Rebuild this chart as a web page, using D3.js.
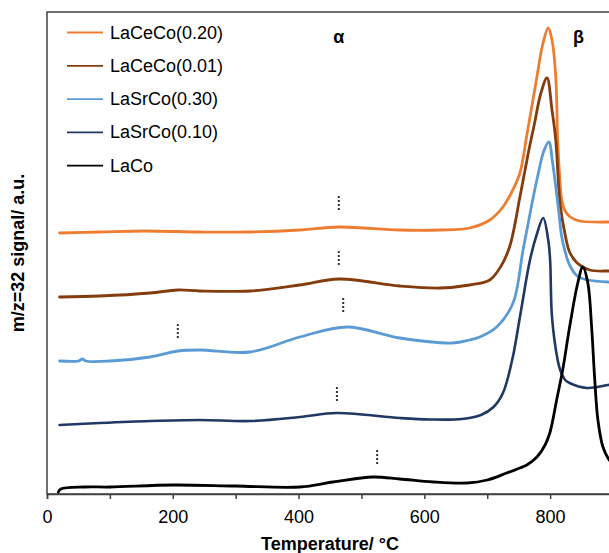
<!DOCTYPE html>
<html><head><meta charset="utf-8">
<script src="https://cdn.jsdelivr.net/npm/d3@7"></script>
<style>body{margin:0;background:#fff}svg{display:block}text{font-family:"Liberation Sans",Arial,sans-serif}</style>
</head><body><div id="chart"></div>
<script>
// ---- data (signal in a.u., temperature in °C) ----
const seriesNames = ["LaCeCo(0.20)", "LaCeCo(0.01)", "LaSrCo(0.30)", "LaSrCo(0.10)", "LaCo"];
const seriesColors = ["#ED7D31", "#843C0C", "#5B9BD5", "#1F3864", "#000000"];

const tLaCeCo020 = [20,84,156,243,323,402,464,561,625,672,704,725,739,752,763,770,779,788,797,803,809,812,815,818,823,832,847,893,900];
const vLaCeCo020 = [26.1,26.2,26.3,26.2,26.2,26.4,26.7,26.4,26.4,26.6,27.4,28.7,30.2,32.1,35.9,38.4,41.7,44.9,46.6,45.4,41.7,35.4,31.9,29.6,28.4,27.7,27.3,27.2,27.2];

const tLaCeCo001 = [20,84,164,208,243,323,402,464,561,625,672,704,722,736,752,765,775,785,795,803,809,816,824,831,843,863,892,900];
const vLaCeCo001 = [19.7,19.8,20.1,20.4,20.3,20.3,20.9,21.5,20.8,20.6,20.9,21.4,22.8,24.8,29.7,34.0,37.0,40.0,41.6,38.4,35.4,28.9,25.9,24.2,23.1,22.4,22.3,22.3];

const tLaSrCo030 = [20,50,56,62,100,164,208,243,323,402,477,561,645,672,688,715,741,757,771,781,790,798,804,814,818,824,831,843,860,892,900];
const vLaSrCo030 = [13.3,13.3,13.5,13.3,13.3,13.7,14.3,14.4,14.2,15.7,16.7,15.6,15.1,15.4,15.7,16.7,19.1,24.4,29.0,32.0,34.3,35.2,33.1,28.1,25.9,24.2,22.9,21.8,21.4,21.2,21.2];

const tLaSrCo010 = [20,84,164,243,323,402,461,561,610,660,690,710,725,740,752,768,779,789,797,800,803,812,816,824,831,858,892,900];
const vLaSrCo010 = [6.9,7.1,7.3,7.4,7.3,7.7,8.1,7.6,7.45,7.5,7.9,8.7,10.1,13.5,17.7,23.4,26.0,27.6,25.4,23.4,17.7,13.4,12.4,11.4,11.1,10.6,10.9,11.0];

const tLaCo = [18,22,60,100,200,300,402,455,518,561,614,668,700,731,752,763,779,792,800,811,820,831,844,852,860,866,871,876,884,892,900];
const vLaCo = [0.2,0.5,0.7,0.7,0.9,0.8,0.7,1.2,1.7,1.5,1.2,1.1,1.4,2.1,2.6,2.9,3.7,4.9,6.2,9.6,12.4,16.7,21.1,22.7,21.1,16.7,11.4,7.4,4.7,3.6,2.9];

const seriesT = [tLaCeCo020, tLaCeCo001, tLaSrCo030, tLaSrCo010, tLaCo];
const seriesV = [vLaCeCo020, vLaCeCo001, vLaSrCo030, vLaSrCo010, vLaCo];

// dotted peak markers
const markerT = [464, 464, 471, 208, 461, 525];
const markerLow = [28.3, 22.9, 18.1, 15.6, 9.3, 3.0];
const markerHigh = [29.8, 24.3, 19.6, 17.0, 10.7, 4.4];

const peakLabels = ["α", "β"];
const peakLabelT = [464, 845];
const peakLabelV = [45.1, 45.1];

const xTicks = [0,100,200,300,400,500,600,700,800,900];
const xTickLabels = ["0","","200","","400","","600","","800",""];

// ---- drawing ----
const W = 609, H = 553;
const svg = d3.select("#chart").append("svg").attr("width", W).attr("height", H);
const x = d3.scaleLinear().domain([0, 900]).range([47, 613]);
const y = d3.scaleLinear().domain([0, 48.2]).range([494, 12]);

// frame
svg.append("rect").attr("x", x(0)).attr("y", y(48.2)).attr("width", x(900) - x(0)).attr("height", y(0) - y(48.2))
  .attr("fill", "none").attr("stroke", "#404040").attr("stroke-width", 1.5);

// x axis
const xAxis = d3.axisBottom(x).tickValues(xTicks).tickSize(5).tickPadding(11)
  .tickFormat((d, i) => xTickLabels[i]);
const gx = svg.append("g").attr("transform", `translate(0,${y(0)})`).call(xAxis);
gx.select(".domain").attr("stroke", "#404040").attr("stroke-width", 1.5);
gx.selectAll(".tick line").attr("stroke", "#404040").attr("stroke-width", 1.5);
gx.selectAll(".tick text").attr("font-size", 18).attr("fill", "#000")
  .attr("font-family", '"Liberation Sans",Arial,sans-serif');

// axis titles
svg.append("text").attr("x", x(450)).attr("y", 550).attr("text-anchor", "middle")
  .attr("font-size", 18).attr("font-weight", "bold").text("Temperature/ °C");
svg.append("text").attr("transform", `translate(24,${(y(0) + y(48.2)) / 2}) rotate(-90)`)
  .attr("text-anchor", "middle").attr("font-size", 18).attr("font-weight", "bold")
  .text("m/z=32 signal/ a.u.");

// clip
svg.append("clipPath").attr("id", "clip").append("rect")
  .attr("x", x(0)).attr("y", y(48.2)).attr("width", x(900) - x(0)).attr("height", y(0) - y(48.2));

const line = d3.line().x(d => x(d[0])).y(d => y(d[1])).curve(d3.curveCatmullRom.alpha(0.5));
const gl = svg.append("g").attr("clip-path", "url(#clip)");
seriesNames.forEach((name, i) => {
  const pts = seriesT[i].map((t, j) => [t, seriesV[i][j]]);
  gl.append("path").datum(pts).attr("d", line).attr("fill", "none")
    .attr("stroke", seriesColors[i]).attr("stroke-width", i === 3 ? 2.6 : 2.8)
    .attr("stroke-linejoin", "round").attr("stroke-linecap", "round");
});

// markers
markerT.forEach((t, i) => {
  svg.append("line").attr("x1", x(t)).attr("x2", x(t))
    .attr("y1", y(markerHigh[i])).attr("y2", y(markerLow[i]))
    .attr("stroke", "#333").attr("stroke-width", 2).attr("stroke-dasharray", "2,2");
});

// peak labels
peakLabels.forEach((s, i) => {
  svg.append("text").attr("x", x(peakLabelT[i])).attr("y", y(peakLabelV[i]))
    .attr("text-anchor", "middle").attr("font-size", 18).attr("font-weight", "bold").text(s);
});

// legend
const lg = svg.append("g");
seriesNames.forEach((name, i) => {
  const yy = 32.5 + i * 33.3;
  lg.append("line").attr("x1", 67).attr("x2", 103).attr("y1", yy).attr("y2", yy)
    .attr("stroke", seriesColors[i]).attr("stroke-width", 1.8);
  lg.append("text").attr("x", 110).attr("y", yy + 6).attr("font-size", 18).attr("fill", "#000").text(name);
});
</script>
</body></html>
